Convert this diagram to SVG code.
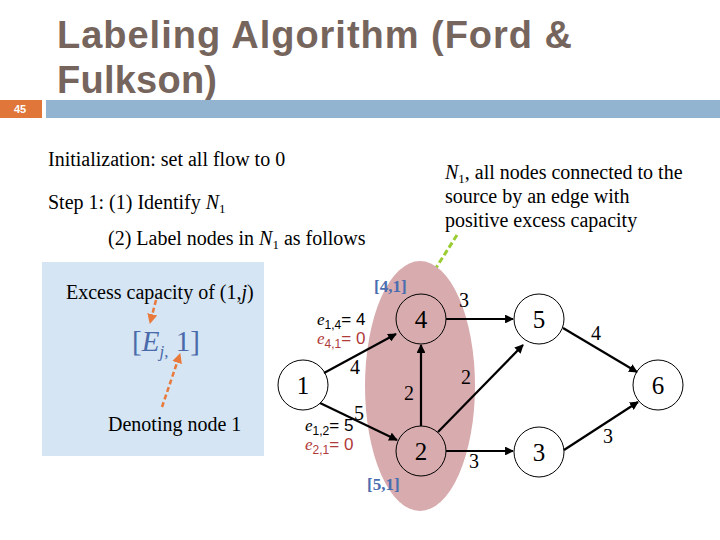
<svg xmlns="http://www.w3.org/2000/svg" width="720" height="540" viewBox="0 0 720 540">
<style>
.title{font-family:"Liberation Sans",Arial,sans-serif;font-weight:bold;font-size:38px;fill:#76655d}
.t{font-family:"Liberation Serif","Times New Roman",serif;font-size:20px;fill:#000}
.node circle{fill:none;stroke:#000;stroke-width:1}
.nl{font-family:"Liberation Serif","Times New Roman",serif;font-size:25px;fill:#000;text-anchor:middle}
.edge{stroke:#000;stroke-width:2.2;fill:none;marker-end:url(#ah)}
.lab{font-family:"Liberation Serif","Times New Roman",serif;font-weight:bold;font-size:17px;fill:#4a6db0}
.e{font-family:"Liberation Sans",Arial,sans-serif;font-size:17px}
.ei{font-family:"Liberation Serif","Times New Roman",serif;font-style:italic}
</style>
<defs>
<marker id="ah" viewBox="0 0 10 10" refX="9" refY="5" markerWidth="4" markerHeight="4" orient="auto" markerUnits="strokeWidth">
<path d="M0,0 L10,5 L0,10 z" fill="#000"/>
</marker>
<marker id="oa" viewBox="0 0 10 10" refX="9" refY="5" markerWidth="4" markerHeight="4" orient="auto" markerUnits="strokeWidth">
<path d="M0,0 L10,5 L0,10 z" fill="#e8793a"/>
</marker>
<marker id="ga" viewBox="0 0 10 10" refX="9" refY="5" markerWidth="4" markerHeight="4" orient="auto" markerUnits="strokeWidth">
<path d="M0,0 L10,5 L0,10 z" fill="#9acd32"/>
</marker>
</defs>
<rect width="720" height="540" fill="#fff"/>
<g id="header">
<text class="title" x="57" y="48" textLength="515" lengthAdjust="spacing">Labeling Algorithm (Ford &amp;</text>
<text class="title" x="57" y="93" textLength="160" lengthAdjust="spacing">Fulkson)</text>
<rect x="0" y="100" width="42" height="18" fill="#e0763a"/>
<rect x="46" y="100" width="674" height="18" fill="#93b4d1"/>
<text x="20" y="113" font-family="Liberation Sans,Arial,sans-serif" font-size="11" font-weight="bold" fill="#fff" text-anchor="middle">45</text>
</g>
<g id="steps">
<text class="t" x="48" y="166">Initialization: set all flow to 0</text>
<text class="t" x="48" y="209">Step 1: (1) Identify <tspan font-style="italic">N</tspan><tspan font-size="13" dy="4">1</tspan></text>
<text class="t" x="108" y="245">(2) Label nodes in <tspan font-style="italic">N</tspan><tspan font-size="13" dy="4">1</tspan><tspan dy="-4"> as follows</tspan></text>
</g>
<g id="note">
<text class="t" x="445" y="179"><tspan font-style="italic">N</tspan><tspan font-size="13" dy="4">1</tspan><tspan dy="-4">, all nodes connected to the</tspan></text>
<text class="t" x="445" y="203">source by an edge with</text>
<text class="t" x="445" y="227">positive excess capacity</text>
<line x1="457" y1="235" x2="427" y2="282" stroke="#9acd32" stroke-width="3" stroke-dasharray="6,3" marker-end="url(#ga)"/>
</g>
<g id="legend">
<rect x="42" y="262" width="222" height="194" fill="#d5e5f4"/>
<text class="t" x="66" y="299">Excess capacity of (1,<tspan font-style="italic">j</tspan>)</text>
<text x="132" y="351" font-family="Liberation Serif,Times New Roman,serif" font-size="29" fill="#4a6aaa">[<tspan font-style="italic">E</tspan><tspan font-size="17" dy="6" font-style="italic">j</tspan><tspan font-size="17">,</tspan><tspan dy="-6"> 1]</tspan></text>
<text class="t" x="108" y="431">Denoting node 1</text>
<line x1="156" y1="300" x2="150" y2="323" stroke="#e8793a" stroke-width="2.5" stroke-dasharray="5,3" marker-end="url(#oa)"/>
<line x1="162" y1="407" x2="180" y2="354" stroke="#e8793a" stroke-width="2.5" stroke-dasharray="5,3" marker-end="url(#oa)"/>
</g>
<ellipse id="N1" cx="420" cy="386" rx="55" ry="125" fill="#d8abae"/>
<g id="connectors">
<line class="edge" x1="324" y1="373" x2="396" y2="334"/>
<line class="edge" x1="320" y1="403" x2="397" y2="440"/>
<line class="edge" x1="421" y1="426" x2="421" y2="345"/>
<line class="edge" x1="446" y1="319" x2="513" y2="319"/>
<line class="edge" x1="438" y1="432" x2="523" y2="345"/>
<line class="edge" x1="446" y1="451" x2="513" y2="451"/>
<line class="edge" x1="563" y1="328" x2="637" y2="372"/>
<line class="edge" x1="564" y1="450" x2="638" y2="402"/>
<g style="font-family:'Liberation Serif','Times New Roman',serif;font-size:20px;text-anchor:middle" fill="#000">
<text x="355" y="374">4</text>
<text x="359" y="420">5</text>
<text x="409" y="400">2</text>
<text x="464" y="307">3</text>
<text x="466" y="384">2</text>
<text x="474" y="468">3</text>
<text x="596" y="340">4</text>
<text x="608" y="443">3</text>
</g>
</g>
<g id="node1" class="node"><circle cx="303" cy="385" r="25"/><text class="nl" x="303" y="394">1</text></g>
<g id="node4" class="node"><circle cx="421" cy="319" r="25"/><text class="nl" x="421" y="328">4</text></g>
<g id="node2" class="node"><circle cx="421" cy="451" r="25"/><text class="nl" x="421" y="460">2</text></g>
<g id="node5" class="node"><circle cx="539" cy="319" r="25"/><text class="nl" x="539" y="328">5</text></g>
<g id="node3" class="node"><circle cx="539" cy="452" r="25"/><text class="nl" x="539" y="461">3</text></g>
<g id="node6" class="node"><circle cx="658" cy="385" r="25"/><text class="nl" x="658" y="394">6</text></g>
<g id="labels">
<text class="lab" x="374" y="292">[4,1]</text>
<text class="lab" x="367" y="490">[5,1]</text>
<text class="e" x="317" y="325" fill="#000"><tspan class="ei">e</tspan><tspan font-size="12" dy="4">1,4</tspan><tspan dy="-4">= 4</tspan></text>
<text class="e" x="317" y="344" fill="#b03a3a"><tspan class="ei">e</tspan><tspan font-size="12" dy="4">4,1</tspan><tspan dy="-4">= 0</tspan></text>
<text class="e" x="305" y="431" fill="#000"><tspan class="ei">e</tspan><tspan font-size="12" dy="4">1,2</tspan><tspan dy="-4">= 5</tspan></text>
<text class="e" x="305" y="450" fill="#b03a3a"><tspan class="ei">e</tspan><tspan font-size="12" dy="4">2,1</tspan><tspan dy="-4">= 0</tspan></text>
</g>
</svg>
